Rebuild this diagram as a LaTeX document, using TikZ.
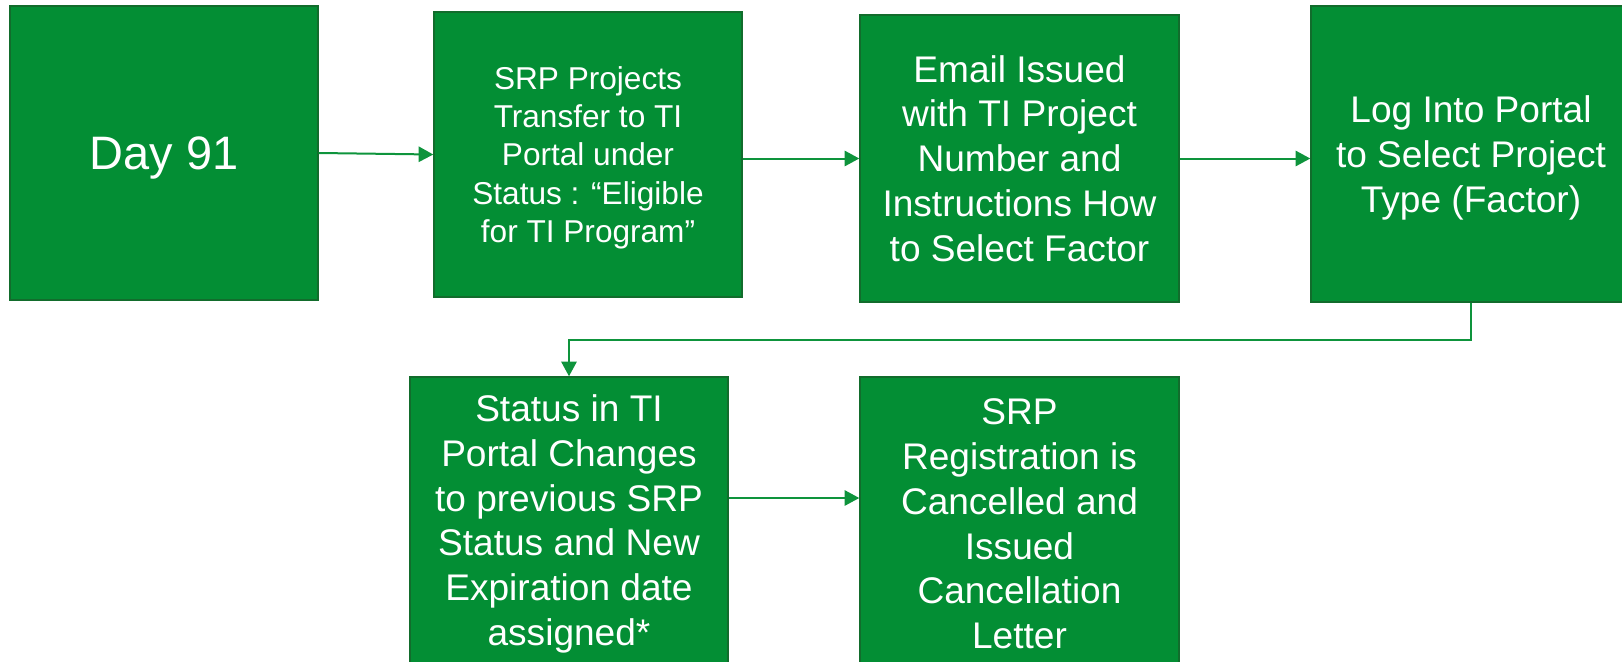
\documentclass[tikz,border=0pt]{standalone}
\usepackage{fontspec}
\setmainfont{Liberation Sans}
\usetikzlibrary{arrows.meta}
\definecolor{boxgreen}{RGB}{3,142,52}
\definecolor{edgegreen}{RGB}{18,108,44}
\definecolor{linegreen}{RGB}{14,148,60}
\tikzset{every picture/.style={line width=0.75pt}}

\begin{document}
\begin{tikzpicture}[x=0.75pt,y=0.75pt,yscale=-1,xscale=1,
    procbox/.style={draw=edgegreen,line width=1.1pt,fill=boxgreen,text=white,align=center,inner sep=0pt},
    bigtxt/.style={font=\fontsize{27.8}{33.6}\selectfont},
    lowtxt/.style={text depth=0pt},
    flow/.style={draw=linegreen,line width=1.5pt,-{Triangle[length=11pt,width=11.5pt]}}]
    %set diagram left start at 0, and has height of 661
    \useasboundingbox (0,0) rectangle (1622,661);
    \clip (0,0) rectangle (1622,661);

    % Day box
    \draw (164,153) node [procbox,lowtxt,minimum width=231pt,minimum height=220.5pt,font=\fontsize{35.2}{40}\selectfont] (day) {Day 91};
    % Transfer box
    \draw (588,154.5) node [procbox,lowtxt,minimum width=231pt,minimum height=213.75pt,font=\fontsize{23.7}{28.7}\selectfont] (transfer) {SRP Projects\\Transfer to TI\\Portal under\\Status : “Eligible\\for TI Program”};
    % Email box
    \draw (1019.5,158.5) node [procbox,bigtxt,minimum width=239.25pt,minimum height=215.25pt] (email) {Email Issued\\with TI Project\\Number and\\Instructions How\\to Select Factor};
    % Portal box
    \draw (1471,154) node [procbox,bigtxt,lowtxt,minimum width=240pt,minimum height=222pt] (login) {Log Into Portal\\to Select Project\\Type (Factor)};
    % Status box
    \draw (569,524) node [procbox,bigtxt,minimum width=238.5pt,minimum height=220.5pt] (status) {Status in TI\\Portal Changes\\to previous SRP\\Status and New\\Expiration date\\assigned*};
    % Cancel box
    \draw (1019.5,524) node [procbox,bigtxt,minimum width=239.25pt,minimum height=220.5pt] (cancel) {SRP\\Registration is\\Cancelled and\\Issued\\Cancellation\\Letter};

    %Connectors
    \draw [flow] (day.east) -- (transfer.west);
    \draw [flow] (email.west -| transfer.east) -- (email.west);
    \draw [flow] (email.east) -- (email.east -| login.west);
    \draw [flow] (login.south) -- ++(0,37) -| (status.north);
    \draw [flow] ([yshift=-19.5pt]status.east) -- ([yshift=-19.5pt]cancel.west);

\end{tikzpicture}
\end{document}
